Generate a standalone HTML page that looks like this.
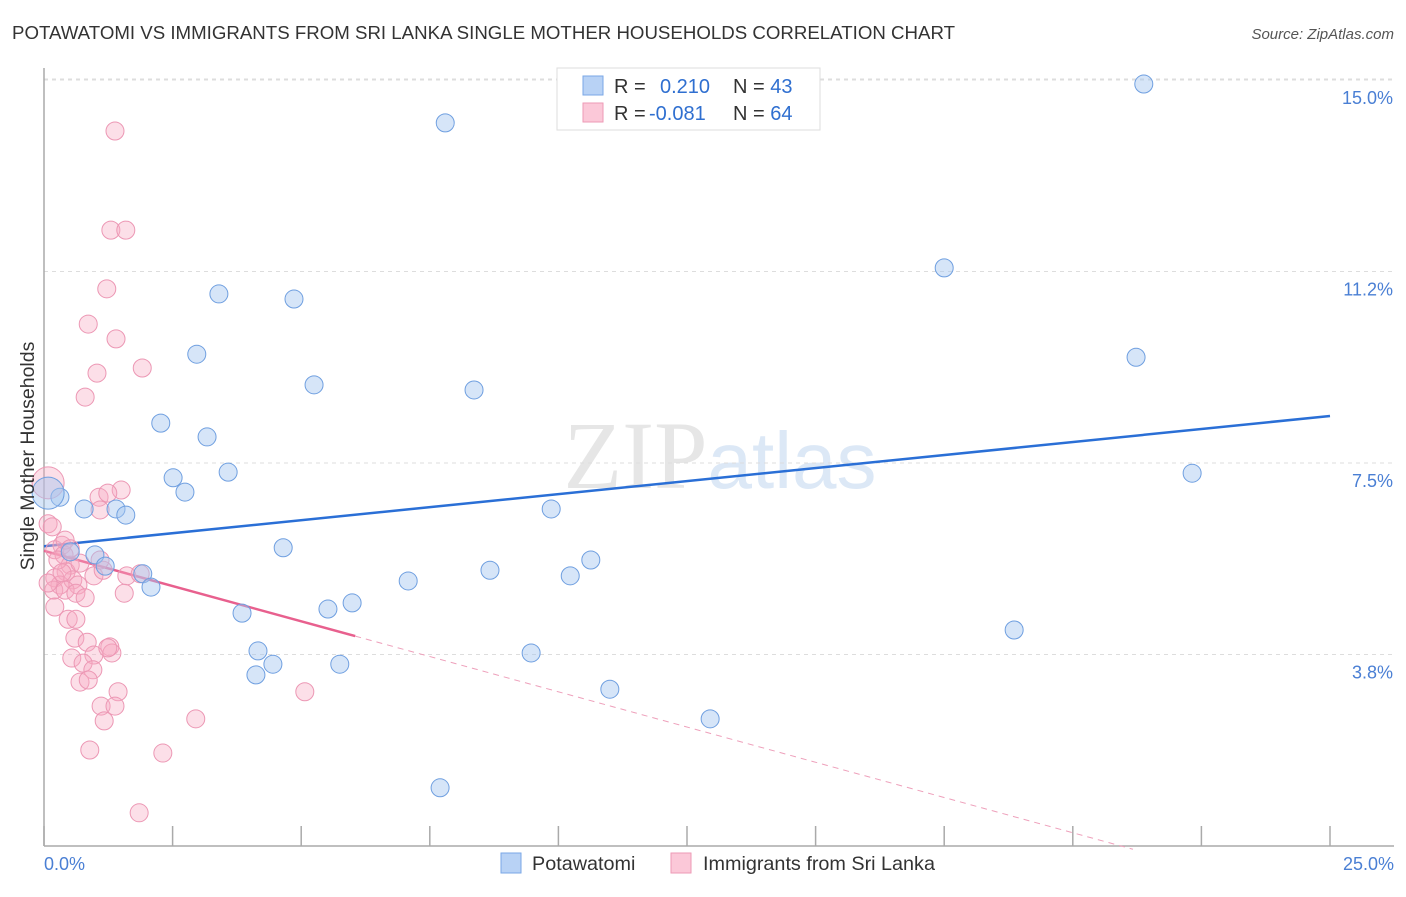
<!DOCTYPE html>
<html><head><meta charset="utf-8"><style>
body{margin:0;background:#fff;font-family:"Liberation Sans",sans-serif}
svg text{font-family:"Liberation Sans",sans-serif}
</style></head><body>
<svg id="chart" width="1406" height="892" xmlns="http://www.w3.org/2000/svg">
<text x="12" y="39" font-size="18" fill="#333" textLength="943" lengthAdjust="spacingAndGlyphs">POTAWATOMI VS IMMIGRANTS FROM SRI LANKA SINGLE MOTHER HOUSEHOLDS CORRELATION CHART</text>
<text x="1394" y="39" font-size="15" fill="#555" text-anchor="end" font-style="italic">Source: ZipAtlas.com</text>
<text x="720" y="488" font-size="96" text-anchor="middle" fill="#e6e6e6" font-family="Liberation Serif" ><tspan font-family="Liberation Serif">ZIP</tspan><tspan fill="#dce8f6" font-family="Liberation Sans" font-size="80">atlas</tspan></text>
<g id="grid"></g><g id="axes"></g><g id="lines"></g><g id="pts"></g>
<text transform="translate(34,456) rotate(-90)" font-size="19.5" fill="#333" text-anchor="middle">Single Mother Households</text>
<text x="44" y="870" font-size="18" fill="#4a7fd4">0.0%</text>
<text x="1394" y="870" font-size="18" fill="#4a7fd4" text-anchor="end">25.0%</text>
<g>
<rect x="557" y="68" width="263" height="62" fill="#fff" stroke="#ddd"/>
<rect x="583" y="76" width="20" height="19" fill="#b8d2f5" stroke="#7aa7e6"/>
<rect x="583" y="103" width="20" height="19" fill="#fbc8d8" stroke="#ee9ab6"/>
<text x="614" y="93" font-size="20" fill="#333">R = <tspan fill="#2f6fd0" x="660">0.210</tspan><tspan fill="#333" x="733">N = </tspan><tspan fill="#2f6fd0">43</tspan></text>
<text x="614" y="120" font-size="20" fill="#333">R = <tspan fill="#2f6fd0" x="649">-0.081</tspan><tspan fill="#333" x="733">N = </tspan><tspan fill="#2f6fd0">64</tspan></text>
</g>
<g>
<rect x="501" y="853" width="20" height="20" fill="#b8d2f5" stroke="#7aa7e6"/>
<text x="532" y="870" font-size="19.8" fill="#333">Potawatomi</text>
<rect x="671" y="853" width="20" height="20" fill="#fbc8d8" stroke="#ee9ab6"/>
<text x="703" y="870" font-size="19.8" fill="#333">Immigrants from Sri Lanka</text>
</g>
</svg>
<script>
const yTicks=[3.75,7.5,11.25,15];
const yTickLabels=["3.8%","7.5%","11.2%","15.0%"];
const xTicks=[0,2.5,5,7.5,10,12.5,15,17.5,20,22.5,25];
const blueX=[7.80,21.38,17.50,3.40,4.86,2.97,21.23,5.25,8.36,2.27,3.17,3.58,2.51,22.32,2.74,0.31,0.78,1.40,1.59,9.86,4.65,0.51,0.99,10.63,1.19,1.92,8.67,10.23,7.08,2.08,5.99,5.52,3.85,18.86,9.47,4.16,4.45,5.75,4.12,11.00,12.95,7.70,0.08];
const blueY=[14.16,14.92,11.32,10.81,10.71,9.63,9.57,9.03,8.93,8.28,8.01,7.32,7.21,7.30,6.93,6.83,6.60,6.60,6.48,6.60,5.84,5.76,5.70,5.60,5.48,5.33,5.40,5.29,5.19,5.07,4.76,4.64,4.56,4.23,3.78,3.82,3.56,3.56,3.35,3.07,2.49,1.14,6.91];
const pinkX=[1.38,1.30,1.59,1.22,0.86,1.40,1.91,1.03,0.80,1.50,1.07,1.24,1.09,0.08,0.08,0.16,0.35,0.21,0.39,0.51,0.43,0.21,0.31,0.56,0.66,0.19,0.41,0.97,1.15,1.61,1.87,1.56,0.62,0.21,0.47,0.62,0.60,0.84,1.28,0.54,0.97,0.76,0.95,0.70,0.86,1.44,1.11,1.38,1.17,2.95,5.07,0.89,2.31,1.85,0.27,0.08,1.09,0.80,0.41,0.70,1.32,0.35,0.51,1.24];
const pinkY=[14.00,12.06,12.06,10.91,10.22,9.93,9.36,9.26,8.79,6.97,6.83,6.91,6.58,7.11,6.31,6.25,5.89,5.80,5.70,5.50,5.37,5.25,5.11,5.21,5.11,5.01,5.01,5.29,5.40,5.29,5.33,4.95,4.95,4.68,4.44,4.44,4.07,3.99,3.90,3.68,3.74,3.58,3.45,3.21,3.25,3.02,2.74,2.74,2.45,2.49,3.02,1.88,1.82,0.65,5.60,5.15,5.60,4.86,5.99,5.54,3.78,5.35,5.82,3.88];
const blueTrend=[5.87,8.42];
const pinkTrend=[5.78,4.11,6.05,21.17];
const X=v=>44+v*51.44, Y=v=>846-v*51.07;
const NS="http://www.w3.org/2000/svg";
function mk(t,a,p){const e=document.createElementNS(NS,t);for(const k in a)e.setAttribute(k,a[k]);document.getElementById(p).appendChild(e);return e;}
yTicks.forEach((t,i)=>{
 const g=mk('line',{x1:44,x2:1394,y1:Y(t),y2:Y(t),stroke:'#ddd','stroke-dasharray':'4,4'},'grid');
 
 
 const l=mk('text',{x:1393,y:Y(t)+24,'font-size':18,fill:'#4a7fd4','text-anchor':'end'},'grid');
 l.textContent=yTickLabels[i];
 
 
});
const gtop=mk('line',{x1:44,x2:1394,y1:Y(15)-1,y2:Y(15)-1,stroke:'#ddd','stroke-dasharray':'4,4'},'grid');


const ya=mk('line',{x1:44,x2:44,y1:68,y2:846,stroke:'#aaa','stroke-width':1.5},'axes');


const xa=mk('line',{x1:44,x2:1394,y1:846,y2:846,stroke:'#aaa','stroke-width':1.5},'axes');


xTicks.forEach(t=>{
 const k=mk('line',{x1:X(t),x2:X(t),y1:826,y2:846,stroke:'#aaa','stroke-width':1.5},'axes');
 
 
});
const bl=mk('line',{x1:X(0),y1:Y(blueTrend[0]),x2:X(25),y2:Y(blueTrend[1]),stroke:'#2a6fd6','stroke-width':2.5},'lines');


const slope=(pinkTrend[1]-pinkTrend[0])/pinkTrend[2];
const ps=mk('line',{x1:X(0),y1:Y(pinkTrend[0]),x2:X(pinkTrend[2]),y2:Y(pinkTrend[1]),stroke:'#e8608e','stroke-width':2.5},'lines');


const pd=mk('line',{x1:X(pinkTrend[2]),y1:Y(pinkTrend[1]),x2:X(pinkTrend[3]),y2:Y(pinkTrend[0]+slope*pinkTrend[3]),stroke:'#eea0bb','stroke-width':1,'stroke-dasharray':'6,5'},'lines');


pinkX.forEach((x,i)=>{
 const c=mk('circle',{cx:X(x),cy:Y(pinkY[i]),r:i==13?16:9,fill:'rgba(248,170,195,0.38)',stroke:'#ec97b4','stroke-width':1},'pts');
 
 
});
blueX.forEach((x,i)=>{
 const c=mk('circle',{cx:X(x),cy:Y(blueY[i]),r:i==42?16:9,fill:'rgba(165,198,240,0.45)',stroke:'#6f9fe0','stroke-width':1},'pts');
 
 
});
</script>
</body></html>
